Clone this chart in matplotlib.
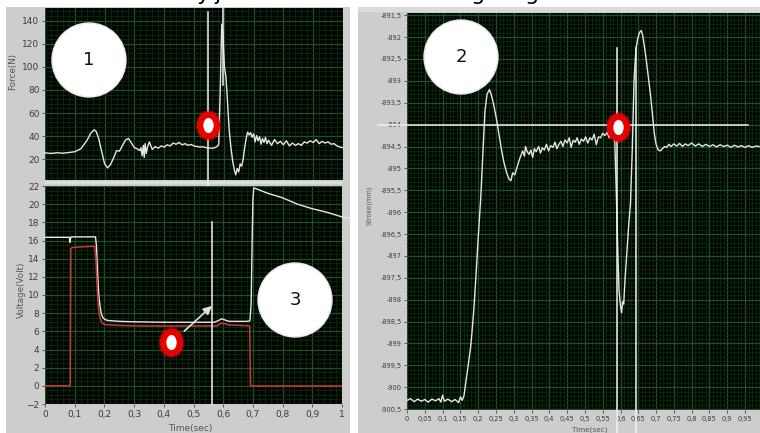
import matplotlib
matplotlib.use("Agg")
import matplotlib.pyplot as plt
from matplotlib.patches import Rectangle, Circle
from matplotlib.path import Path
from matplotlib.transforms import Affine2D
from matplotlib.ticker import MultipleLocator

# ---------------- data ----------------
force_t = [0.00, 0.02, 0.04, 0.06, 0.08, 0.10, 0.12, 0.14, 0.155, 0.165, 0.172, 0.18, 0.19, 0.20,
           0.21, 0.22, 0.23, 0.24, 0.25, 0.26, 0.27, 0.28, 0.29, 0.30, 0.31, 0.318, 0.322, 0.326,
           0.33, 0.333, 0.336, 0.34, 0.344, 0.35, 0.36, 0.37, 0.38, 0.39, 0.40, 0.41, 0.42, 0.43,
           0.44, 0.45, 0.46, 0.47, 0.48, 0.49, 0.50, 0.51, 0.52, 0.53, 0.54, 0.55, 0.56, 0.57,
           0.578, 0.583, 0.588, 0.593, 0.597, 0.602, 0.607, 0.612, 0.618, 0.624, 0.63, 0.636,
           0.64, 0.645, 0.65, 0.655, 0.66, 0.665, 0.67, 0.675, 0.68, 0.685, 0.69, 0.695, 0.70,
           0.705, 0.71, 0.715, 0.72, 0.725, 0.73, 0.735, 0.74, 0.745, 0.75, 0.76, 0.77, 0.78,
           0.79, 0.80, 0.81, 0.82, 0.83, 0.84, 0.85, 0.86, 0.87, 0.88, 0.89, 0.90, 0.91, 0.92,
           0.93, 0.94, 0.95, 0.96, 0.97, 0.98, 0.99, 1.00]
force_n = [25.5, 25.0, 25.6, 25.2, 25.8, 26.5, 29.0, 36.0, 43.0, 45.5, 44.0, 38.0, 27.0, 16.0,
           12.5, 15.5, 21.0, 27.5, 27.0, 32.0, 36.5, 38.0, 34.0, 30.0, 29.0, 27.5, 30.0, 23.0,
           32.0, 21.5, 33.5, 25.0, 30.5, 35.0, 28.5, 31.0, 29.5, 31.5, 30.5, 32.5, 31.5, 34.0,
           33.0, 34.5, 32.5, 33.5, 32.0, 32.8, 31.5, 31.0, 30.5, 30.8, 30.0, 29.8, 29.5, 30.0,
           31.0, 33.0, 80.0, 137.0, 128.0, 100.0, 92.0, 72.0, 45.0, 30.0, 18.0, 10.0,
           6.5, 12.0, 9.0, 16.0, 14.0, 20.0, 30.0, 38.0, 43.5, 41.0, 43.0, 39.0, 42.0,
           35.0, 40.5, 36.0, 39.5, 33.0, 38.0, 34.5, 39.0, 33.5, 36.5, 32.0, 37.0, 33.5,
           35.5, 32.5, 36.0, 31.5, 34.0, 32.0, 33.5, 32.0, 35.0, 34.0, 36.0, 34.5, 37.0, 33.5,
           35.5, 34.0, 35.0, 33.0, 33.5, 31.5, 30.5, 30.0]

volt_white_t = [0, 0.082, 0.084, 0.086, 0.088, 0.17, 0.173, 0.177, 0.181, 0.186, 0.19, 0.195,
                0.2, 0.21, 0.25, 0.3, 0.4, 0.5, 0.57, 0.585, 0.595, 0.61, 0.62, 0.68, 0.69,
                0.694, 0.697, 0.70, 0.703, 0.75, 0.80, 0.85, 0.90, 0.95, 1.0, 1.025]
volt_white_v = [16.35, 16.35, 15.8, 16.2, 16.4, 16.4, 15.5, 12.5, 10.0, 8.6, 7.9, 7.5,
                7.35, 7.2, 7.1, 7.05, 7.0, 7.0, 7.0, 7.2, 7.38, 7.2, 7.1, 7.1, 7.15,
                9.0, 15.0, 20.5, 21.8, 21.2, 20.7, 20.0, 19.5, 19.1, 18.6, 18.4]
volt_red_t = [0, 0.085, 0.087, 0.09, 0.10, 0.15, 0.168, 0.172, 0.176, 0.18, 0.185, 0.19, 0.2,
              0.25, 0.3, 0.4, 0.5, 0.58, 0.59, 0.60, 0.62, 0.68, 0.689, 0.692, 0.70, 1.0]
volt_red_v = [0, 0, 15.1, 15.2, 15.25, 15.35, 15.35, 13.5, 10.5, 8.5, 7.5, 7.0, 6.75,
              6.65, 6.6, 6.58, 6.58, 6.6, 6.85, 6.9, 6.7, 6.62, 6.6, 0, -0.02, -0.02]

stroke_t = [0.000, 0.010, 0.020, 0.030, 0.040, 0.050, 0.060, 0.070, 0.080, 0.090, 0.095, 0.100,
            0.105, 0.115, 0.125, 0.135, 0.145, 0.150, 0.155, 0.160, 0.165, 0.172, 0.180, 0.188,
            0.195, 0.200, 0.207, 0.213, 0.219, 0.225, 0.232, 0.238, 0.245, 0.252, 0.258, 0.265,
            0.272, 0.280, 0.287, 0.292, 0.297, 0.303, 0.310, 0.318, 0.325, 0.330, 0.333, 0.338,
            0.343, 0.348, 0.353, 0.358, 0.363, 0.370, 0.375, 0.380, 0.386, 0.392, 0.398, 0.404,
            0.410, 0.416, 0.421, 0.427, 0.433, 0.438, 0.444, 0.450, 0.456, 0.461, 0.467, 0.473,
            0.478, 0.484, 0.490, 0.496, 0.502, 0.508, 0.514, 0.520, 0.526, 0.532, 0.538, 0.544,
            0.550, 0.556, 0.562, 0.568, 0.574, 0.580, 0.584, 0.588, 0.592, 0.596, 0.600, 0.603,
            0.606, 0.609, 0.613, 0.618, 0.623, 0.628, 0.633, 0.638, 0.643, 0.648, 0.653, 0.658,
            0.662, 0.667, 0.672, 0.678, 0.684, 0.690, 0.695, 0.700, 0.706, 0.712, 0.718, 0.724,
            0.730, 0.736, 0.742, 0.750, 0.758, 0.766, 0.774, 0.782, 0.790, 0.800, 0.810, 0.820,
            0.830, 0.840, 0.850, 0.860, 0.870, 0.880, 0.890, 0.900, 0.910, 0.920, 0.930, 0.940,
            0.950, 0.960, 0.970, 0.980, 0.990]
stroke_mm = [-900.30, -900.26, -900.33, -900.27, -900.32, -900.28, -900.34, -900.27, -900.31,
             -900.26, -900.34, -900.18, -900.32, -900.27, -900.33, -900.28, -900.35, -900.22,
             -900.30, -900.20, -899.90, -899.50, -899.00, -898.20, -897.30, -896.60, -895.70,
             -894.70, -893.70, -893.30, -893.20, -893.35, -893.60, -893.90, -894.20, -894.55,
             -894.85, -895.10, -895.25, -895.28, -895.10, -895.15, -894.95, -894.75, -894.60,
             -894.72, -894.50, -894.62, -894.68, -894.58, -894.75, -894.55, -894.62, -894.50,
             -894.65, -894.53, -894.58, -894.45, -894.60, -894.48, -894.52, -894.40, -894.55,
             -894.45, -894.38, -894.50, -894.35, -894.42, -894.30, -894.52, -894.36, -894.40,
             -894.30, -894.45, -894.33, -894.38, -894.28, -894.42, -894.30, -894.35, -894.22,
             -894.46, -894.28, -894.30, -894.20, -894.25, -894.18, -894.30, -894.15, -894.20,
             -894.40, -895.50, -896.80, -897.80, -898.15, -898.30, -898.05, -898.10, -897.50,
             -896.90, -896.30, -895.80, -894.60, -893.00, -892.30, -892.05, -891.90, -891.85,
             -891.95, -892.20, -892.50, -892.90, -893.30, -893.80, -894.20, -894.45, -894.58,
             -894.60, -894.55, -894.50, -894.52, -894.45, -894.50, -894.44, -894.49, -894.43,
             -894.50, -894.44, -894.48, -894.42, -894.49, -894.44, -894.50, -894.45, -894.50,
             -894.46, -894.51, -894.46, -894.50, -894.47, -894.52, -894.47, -894.51, -894.48,
             -894.52, -894.48, -894.52, -894.49, -894.50]

left_x_ticks = [0, 0.1, 0.2, 0.3, 0.4, 0.5, 0.6, 0.7, 0.8, 0.9, 1.0]
left_x_labels = ['0', '0,1', '0,2', '0,3', '0,4', '0,5', '0,6', '0,7', '0,8', '0,9', '1']
force_y_ticks = [20, 40, 60, 80, 100, 120, 140]
volt_y_ticks = [-2, 0, 2, 4, 6, 8, 10, 12, 14, 16, 18, 20, 22]
stroke_x_ticks = [0, 0.05, 0.1, 0.15, 0.2, 0.25, 0.3, 0.35, 0.4, 0.45, 0.5, 0.55, 0.6, 0.65,
                  0.7, 0.75, 0.8, 0.85, 0.9, 0.95]
stroke_x_labels = ['0', '0,05', '0,1', '0,15', '0,2', '0,25', '0,3', '0,35', '0,4', '0,45',
                   '0,5', '0,55', '0,6', '0,65', '0,7', '0,75', '0,8', '0,85', '0,9', '0,95']
stroke_y_ticks = [-891.5, -892, -892.5, -893, -893.5, -894, -894.5, -895, -895.5, -896,
                  -896.5, -897, -897.5, -898, -898.5, -899, -899.5, -900, -900.5]
stroke_y_labels = ['-891,5', '-892', '-892,5', '-893', '-893,5', '-894', '-894,5', '-895',
                   '-895,5', '-896', '-896,5', '-897', '-897,5', '-898', '-898,5', '-899',
                   '-899,5', '-900', '-900,5']

# cursors and markers (data coordinates)
force_cursors = [0.547, 0.597]
volt_cursor = 0.562
stroke_cursors = [0.590, 0.643]
stroke_hline = -894.0
force_marker = (0.547, 49.5)
volt_marker = (0.424, 4.85)
stroke_marker = (0.593, -894.05)
volt_arrow_from = (0.448, 5.4)
volt_arrow_to = (0.562, 8.8)

# ---------------- figure ----------------
W, H = 760, 433
fig = plt.figure(figsize=(W / 100, H / 100), dpi=100)
fig.patch.set_facecolor('white')


def px_axes(x0, y0, x1, y1, z=1):
    return fig.add_axes([x0 / W, 1 - y1 / H, (x1 - x0) / W, (y1 - y0) / H], zorder=z)


bg = fig.add_axes([0, 0, 1, 1], zorder=0)
bg.set_xlim(0, W)
bg.set_ylim(H, 0)
bg.axis('off')
FRAME = '#cdcdcd'
bg.add_patch(Rectangle((6, 7), 344, 426, fc=FRAME, ec='none'))
bg.add_patch(Rectangle((358, 7), 402, 426, fc=FRAME, ec='none'))
bg.add_patch(Rectangle((358, 7), 402, 5, fc='#dadada', ec='none'))
bg.add_patch(Rectangle((45, 181), 298, 3, fc='#dcdcdc', ec='none'))

TICKC = '#3c3c3c'
PLOTBG = '#010501'
MAJ = '#1d5223'
MIN = '#0b2a0f'
TRACE = '#e6e6e6'


def style(ax, xmaj, xmin, ymaj, ymin):
    ax.set_facecolor(PLOTBG)
    for s in ax.spines.values():
        s.set_visible(False)
    ax.xaxis.set_minor_locator(MultipleLocator(xmin))
    ax.yaxis.set_minor_locator(MultipleLocator(ymin))
    ax.grid(which='minor', color=MIN, lw=0.6)
    ax.grid(which='major', color=MAJ, lw=0.9)
    ax.set_axisbelow(True)
    ax.tick_params(which='minor', length=0)
    ax.tick_params(which='major', length=2.5, width=0.7, color='#555555', labelcolor=TICKC,
                   pad=1.5)


# Force panel
axf = px_axes(45, 8, 343, 180)
style(axf, 0.1, 0.02, 20, 4)
axf.set_xlim(0, 1)
axf.set_ylim(2, 151)
axf.set_xticks(left_x_ticks)
axf.set_xticklabels([])
axf.tick_params(axis='x', length=0)
axf.set_yticks(force_y_ticks)
axf.tick_params(axis='y', labelsize=6.5)
axf.plot(force_t, force_n, color=TRACE, lw=1.0, zorder=3)

# Voltage panel
axv = px_axes(45, 186, 342, 404)
style(axv, 0.1, 0.02, 2, 0.5)
axv.set_xlim(0, 1)
axv.set_ylim(-2, 22)
axv.set_xticks(left_x_ticks)
axv.set_xticklabels(left_x_labels)
axv.set_yticks(volt_y_ticks)
axv.tick_params(labelsize=6.5)
axv.plot(volt_white_t, volt_white_v, color=TRACE, lw=1.0, zorder=3, clip_on=False)
axv.plot(volt_red_t, volt_red_v, color='#c83a32', lw=1.1, zorder=4)

# Stroke panel
axs = px_axes(407, 13, 760, 410)
style(axs, 0.05, 0.01, 0.5, 0.1)
axs.set_xlim(0, 0.992)
axs.set_ylim(-900.52, -891.45)
axs.set_xticks(stroke_x_ticks)
axs.set_xticklabels(stroke_x_labels)
axs.set_yticks(stroke_y_ticks)
axs.set_yticklabels(stroke_y_labels)
axs.tick_params(labelsize=4.8)
axs.plot(stroke_t, stroke_mm, color=TRACE, lw=1.0, zorder=3)

# cursors
CUR = '#f2f2f2'
axf.axvline(force_cursors[0], ymin=-0.076, ymax=0.977, color=CUR, lw=1.1, clip_on=False, zorder=6)
axf.axvline(force_cursors[1], ymin=0.55, ymax=1.047, color=CUR, lw=1.1, clip_on=False, zorder=6)
axv.axvline(volt_cursor, ymin=0.0, ymax=0.835, color=CUR, lw=1.1, clip_on=False, zorder=6)
for c in stroke_cursors:
    axs.axvline(c, ymin=-0.06, ymax=0.912, color=CUR, lw=1.1, clip_on=False, zorder=6)
axs.axhline(stroke_hline, xmin=-0.082, xmax=0.966, color=CUR, lw=1.1, clip_on=False, zorder=6)

# arrow in voltage panel
axv.annotate('', xy=volt_arrow_to, xytext=volt_arrow_from,
             arrowprops=dict(arrowstyle='-|>,head_length=0.5,head_width=0.25', color='#e0e0e0',
                             lw=1.2, shrinkA=6, shrinkB=0), zorder=7)

# red ring markers
ell = Path.unit_circle().transformed(Affine2D().scale(0.78, 1.0))
for ax, (mx, my) in ((axf, force_marker), (axv, volt_marker), (axs, stroke_marker)):
    ax.plot([mx], [my], marker=ell, ms=17.5, mfc='none', mec='#ff2020', mew=5, alpha=0.3,
            ls='none', zorder=8, clip_on=False)
    ax.plot([mx], [my], marker=ell, ms=15.5, mfc='white', mec='#e60000', mew=4.6,
            ls='none', zorder=9, clip_on=False)

# overlay: numbered circles and texts
ov = fig.add_axes([0, 0, 1, 1], zorder=10)
ov.set_xlim(0, W)
ov.set_ylim(H, 0)
ov.axis('off')
for (cx, cy, r, lab) in ((89, 60, 37, '1'), (461, 57, 37, '2'), (295, 300, 37, '3')):
    ov.add_patch(Circle((cx, cy), r, fc='white', ec='#e8e8e8', lw=1))
    ov.text(cx, cy, lab, ha='center', va='center', fontsize=13, color='#111111')

LBL = '#555555'
fig.text(13 / W, 1 - 71 / H, 'Force(N)', rotation=90, ha='center', va='center',
         fontsize=6.3, color=LBL)
fig.text(21 / W, 1 - 290 / H, 'Voltage(Volt)', rotation=90, ha='center', va='center',
         fontsize=6.3, color=LBL)
fig.text(369 / W, 1 - 205 / H, 'Stroke(mm)', rotation=90, ha='center', va='center',
         fontsize=4.8, color=LBL)
fig.text(190 / W, 1 - 429 / H, 'Time(sec)', ha='center', va='center', fontsize=6.5, color=LBL)
fig.text(590 / W, 1 - 430 / H, 'Time(sec)', ha='center', va='center', fontsize=5.2, color=LBL)

# cropped caption fragments at the very top (only their descenders show, as in the source)
for xx, ch in ((203, 'y'), (218, 'j'), (478, 'g'), (532, 'g')):
    fig.text(xx / W, 1 - 0.5 / H, ch, ha='center', va='baseline', fontsize=16, color='black')

fig.savefig('out.png', dpi=100, facecolor='white')
